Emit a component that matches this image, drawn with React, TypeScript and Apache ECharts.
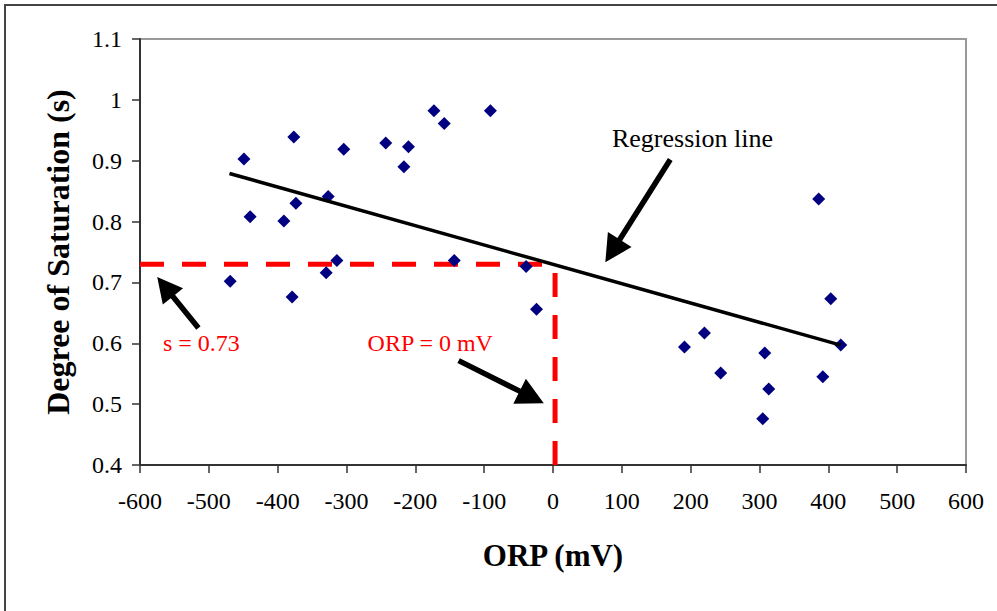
import React, { useEffect, useRef } from "react";
import * as echarts from "echarts";

// Scatter data: ORP (mV) vs degree of saturation (s)
const orp = [
  -469, -449, -440, -391, -379, -376.5, -373.5, -329.5, -326.6, -314, -304,
  -243, -216.6, -210, -173, -158, -143.5, -91, -39, -24,
  191, 220, 243.6, 304.7, 307.6, 313.4, 386, 392, 403.5, 418,
];
const saturation = [
  0.702, 0.903, 0.808, 0.801, 0.676, 0.939, 0.83, 0.716, 0.841, 0.736, 0.919,
  0.929, 0.89, 0.923, 0.982, 0.961, 0.736, 0.982, 0.726, 0.656,
  0.594, 0.617, 0.551, 0.476, 0.584, 0.525, 0.837, 0.545, 0.673, 0.597,
];

// Regression line end points
const regressionX = [-470, 418];
const regressionY = [0.879, 0.597];

// Reference values
const sAtZero = 0.73;
const orpRef = 3;

// Annotation arrows [tailX, tailY, tipX, tipY] in data units
const arrowRegression = [170.4, 0.902, 76.0, 0.733];
const arrowS = [-515.1, 0.625, -575.0, 0.709];
const arrowOrp = [-137.1, 0.5715, -13.4, 0.5015];

// Annotation labels
const labelRegression = { text: "Regression line", x: 202.6, y: 0.936 };
const labelS = { text: "s = 0.73", x: -566.6, y: 0.6 };
const labelOrp = { text: "ORP = 0 mV", x: -178.3, y: 0.6 };

const SERIF = '"Liberation Serif", "Times New Roman", Times, serif';

function arrowPolygon(t: number[], h: number[], shaftW: number, headLen: number, headW: number) {
  const dx = h[0] - t[0];
  const dy = h[1] - t[1];
  const len = Math.hypot(dx, dy);
  const ux = dx / len, uy = dy / len;
  const nx = -uy, ny = ux;
  const bx = h[0] - ux * headLen, by = h[1] - uy * headLen;
  return [
    [t[0] + (nx * shaftW) / 2, t[1] + (ny * shaftW) / 2],
    [bx + (nx * shaftW) / 2, by + (ny * shaftW) / 2],
    [bx + (nx * headW) / 2, by + (ny * headW) / 2],
    [h[0], h[1]],
    [bx - (nx * headW) / 2, by - (ny * headW) / 2],
    [bx - (nx * shaftW) / 2, by - (ny * shaftW) / 2],
    [t[0] - (nx * shaftW) / 2, t[1] - (ny * shaftW) / 2],
  ];
}

export default function App() {
  const ref = useRef<HTMLDivElement>(null);

  useEffect(() => {
    if (!ref.current) return;
    const chart = echarts.init(ref.current, null, { renderer: "svg" });
    const scatterData = orp.map((x, i) => [x, saturation[i]]);
    const fmt = (v: number) => String(parseFloat(Number(v).toFixed(1)));

    chart.setOption({
      animation: false,
      backgroundColor: "#ffffff",
      grid: {
        left: 140,
        top: 39,
        width: 826,
        height: 426,
        show: true,
        borderColor: "#999999",
        borderWidth: 2,
        backgroundColor: "#ffffff",
      },
      xAxis: {
        type: "value",
        min: -600,
        max: 600,
        interval: 100,
        name: "ORP (mV)",
        nameLocation: "middle",
        nameGap: 75,
        nameTextStyle: { fontFamily: SERIF, fontSize: 31, fontWeight: "bold", color: "#000" },
        axisLine: { show: true, onZero: false, lineStyle: { color: "#333", width: 2 } },
        axisTick: { show: true, inside: false, length: 8, lineStyle: { color: "#333", width: 1.5 } },
        axisLabel: { fontFamily: SERIF, fontSize: 24, color: "#000", margin: 24 },
        splitLine: { show: false },
      },
      yAxis: {
        type: "value",
        min: 0.4,
        max: 1.1,
        interval: 0.1,
        name: "Degree of Saturation (s)",
        nameLocation: "middle",
        nameGap: 66,
        nameTextStyle: { fontFamily: SERIF, fontSize: 32, fontWeight: "bold", color: "#000" },
        axisLine: { show: true, onZero: false, lineStyle: { color: "#333", width: 2 } },
        axisTick: { show: true, inside: false, length: 8, lineStyle: { color: "#333", width: 1.5 } },
        axisLabel: { fontFamily: SERIF, fontSize: 24, color: "#000", margin: 18, formatter: fmt },
        splitLine: { show: false },
      },
      series: [
        {
          type: "line",
          data: [[-600, sAtZero], [0, sAtZero]],
          symbol: "none",
          lineStyle: { color: "#ff0000", width: 5, type: [24, 18] },
          z: 2,
        },
        {
          type: "line",
          data: [[orpRef, 0.4], [orpRef, sAtZero]],
          symbol: "none",
          lineStyle: { color: "#ff0000", width: 5, type: [24, 18] },
          z: 2,
        },
        {
          type: "scatter",
          data: scatterData,
          symbol: "diamond",
          symbolSize: 13,
          itemStyle: { color: "#000080", opacity: 1 },
          z: 3,
        },
        {
          type: "line",
          data: regressionX.map((x, i) => [x, regressionY[i]]),
          symbol: "none",
          lineStyle: { color: "#000000", width: 3.5 },
          z: 4,
        },
      ],
    });

    const px = (x: number, y: number) => chart.convertToPixel({ gridIndex: 0 }, [x, y]) as number[];
    const arrow = (a: number[], shaftW: number, headLen: number, headW: number) => ({
      type: "polygon",
      shape: { points: arrowPolygon(px(a[0], a[1]), px(a[2], a[3]), shaftW, headLen, headW) },
      style: { fill: "#000000" },
      z: 10,
    });
    const label = (l: { text: string; x: number; y: number }, align: string, color: string, size: number) => {
      const p = px(l.x, l.y);
      return {
        type: "text",
        x: p[0],
        y: p[1],
        z: 10,
        style: {
          text: l.text,
          fill: color,
          fontFamily: SERIF,
          fontSize: size,
          align,
          verticalAlign: "middle",
        },
      };
    };

    chart.setOption({
      graphic: [
        {
          type: "rect",
          shape: { x: 5, y: 5, width: 1100, height: 800 },
          style: { fill: "none", stroke: "#444", lineWidth: 2 },
          z: 0,
          silent: true,
        },
        arrow(arrowRegression, 5.5, 27, 28),
        arrow(arrowS, 5.5, 25, 26),
        arrow(arrowOrp, 5.5, 27, 28),
        label(labelRegression, "center", "#000000", 26),
        label(labelS, "left", "#ff0000", 24),
        label(labelOrp, "center", "#ff0000", 24),
      ],
    });

    return () => chart.dispose();
  }, []);

  return (
    <div
      ref={ref}
      style={{ position: "fixed", left: 0, top: 0, width: 997, height: 611, background: "#fff" }}
    />
  );
}
